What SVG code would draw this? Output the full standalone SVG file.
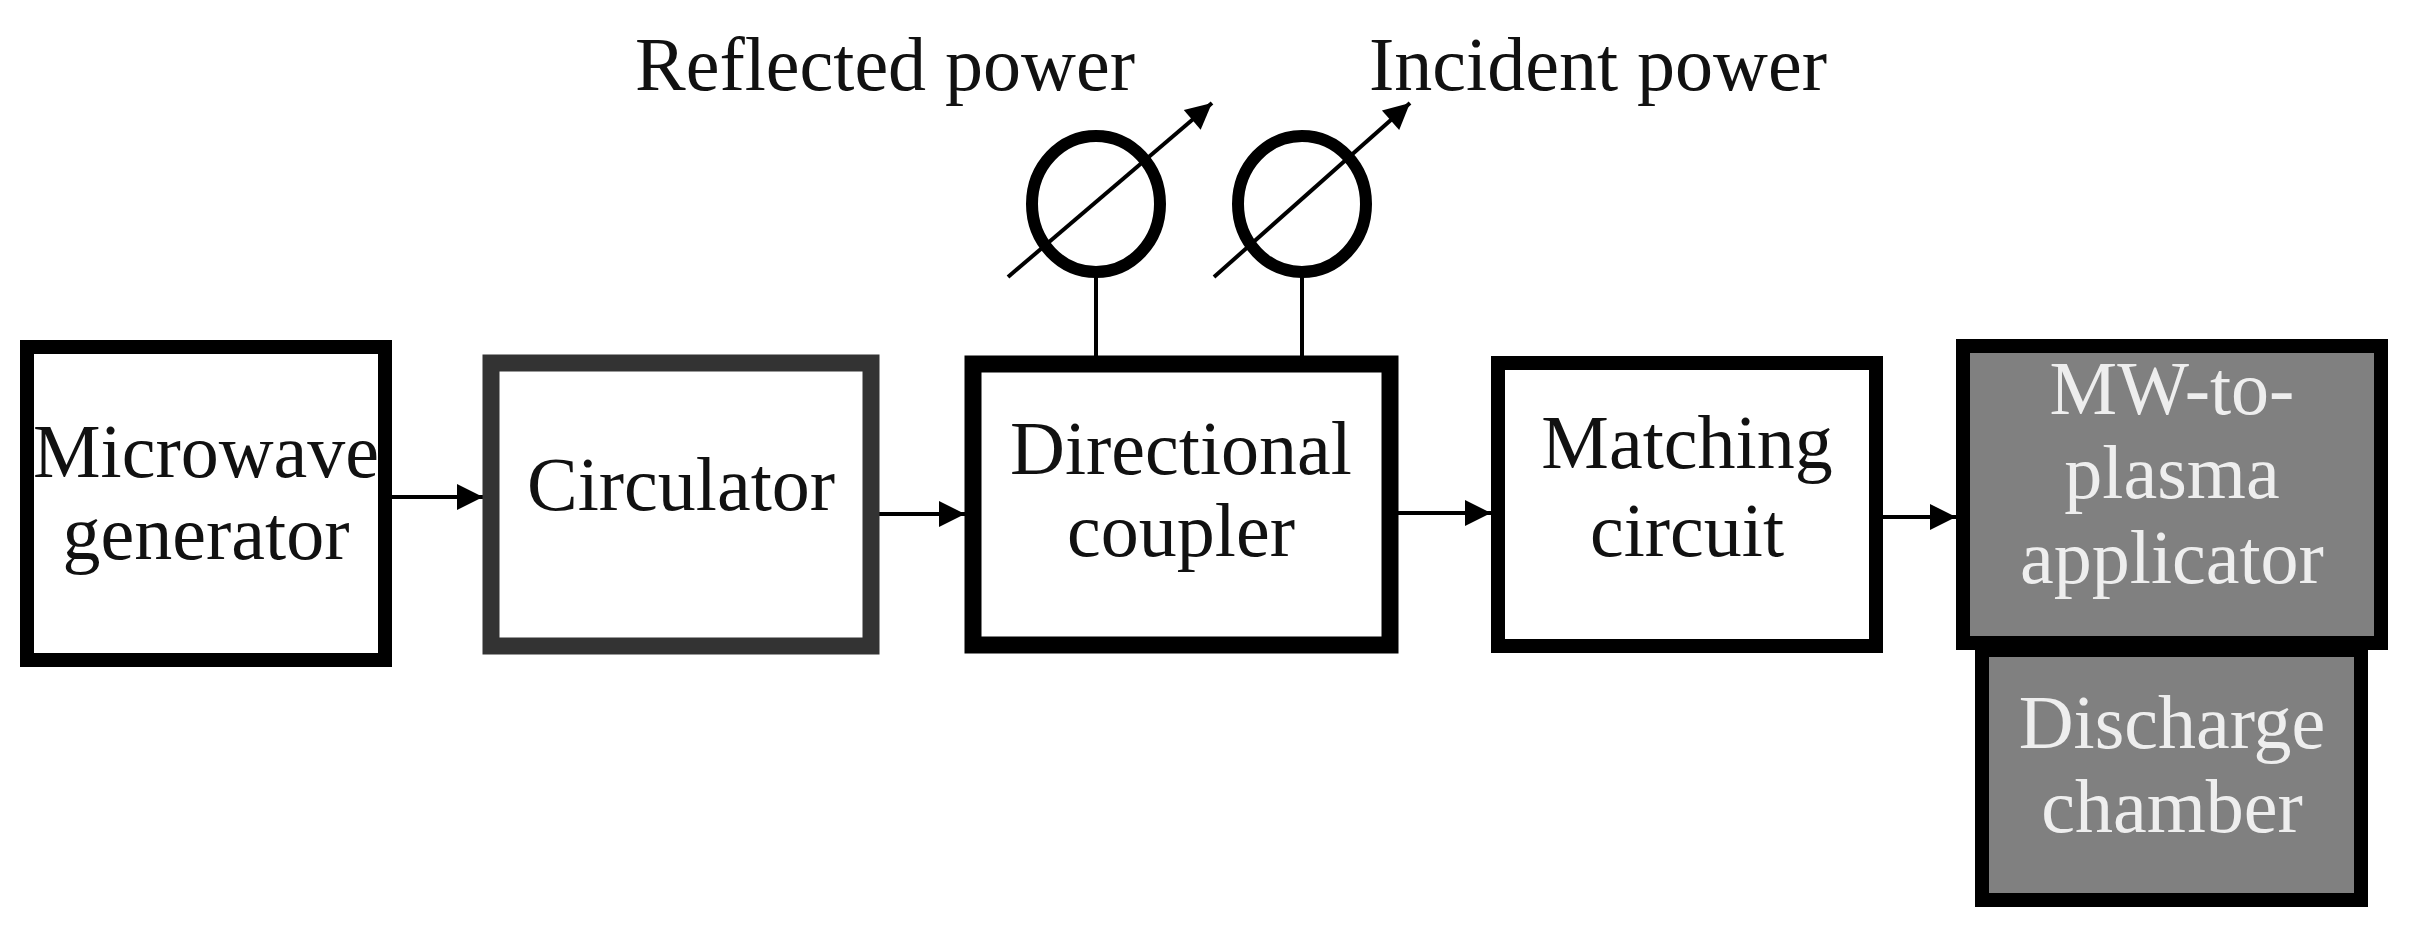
<svg xmlns="http://www.w3.org/2000/svg" width="2412" height="942" viewBox="0 0 2412 942">
<style>
text{font-family:'Liberation Serif','DejaVu Serif',serif;font-size:76px;text-anchor:middle;fill:#111}
.w{fill:#eeeeee}
.box{fill:#fff;stroke:#000;stroke-width:14}
.g{fill:#808080;stroke:#000;stroke-width:14}
.c{stroke:#000;stroke-width:4;fill:none}
.m{fill:none;stroke:#000;stroke-width:12}
</style>
<defs>
<marker id="a" viewBox="0 0 10 10" refX="10" refY="5" markerWidth="28" markerHeight="26" markerUnits="userSpaceOnUse" orient="auto"><path d="M0,0L10,5L0,10z" fill="#000"/></marker>
</defs>
<g id="connectors">
<line class="c" x1="392" y1="497" x2="483" y2="497" marker-end="url(#a)"/>
<line class="c" x1="879" y1="514" x2="965" y2="514" marker-end="url(#a)"/>
<line class="c" x1="1398" y1="513" x2="1491" y2="513" marker-end="url(#a)"/>
<line class="c" x1="1883" y1="517" x2="1956" y2="517" marker-end="url(#a)"/>
<line class="c" x1="1096" y1="276" x2="1096" y2="356"/>
<line class="c" x1="1302" y1="276" x2="1302" y2="356"/>
</g>
<g id="meter-reflected">
<ellipse class="m" cx="1096" cy="204" rx="64" ry="68"/>
<line class="c" x1="1008" y1="277" x2="1212" y2="103" marker-end="url(#a)"/>
<text x="885" y="90" font-family="Liberation Serif, serif">Reflected power</text>
</g>
<g id="meter-incident">
<ellipse class="m" cx="1302" cy="204" rx="64" ry="68"/>
<line class="c" x1="1214" y1="277" x2="1410" y2="103" marker-end="url(#a)"/>
<text x="1598" y="90" font-family="Liberation Serif, serif">Incident power</text>
</g>
<g id="microwave-generator">
<rect class="box" x="27" y="347" width="358" height="313"/>
<text x="206" y="477" font-family="Liberation Serif, serif">Microwave</text>
<text x="206" y="559" font-family="Liberation Serif, serif">generator</text>
</g>
<g id="circulator">
<rect class="box" x="491" y="363" width="380" height="283" style="stroke:#333;stroke-width:17"/>
<text x="681" y="510" font-family="Liberation Serif, serif">Circulator</text>
</g>
<g id="directional-coupler">
<rect class="box" x="973" y="364" width="417" height="281" style="stroke-width:17"/>
<text x="1181" y="474" font-family="Liberation Serif, serif">Directional</text>
<text x="1181" y="556" font-family="Liberation Serif, serif">coupler</text>
</g>
<g id="matching-circuit">
<rect class="box" x="1498" y="363" width="378" height="283"/>
<text x="1687" y="468" font-family="Liberation Serif, serif">Matching</text>
<text x="1687" y="556" font-family="Liberation Serif, serif">circuit</text>
</g>
<g id="discharge-chamber">
<rect class="g" x="1982" y="650" width="379" height="250"/>
<text class="w" x="2172" y="748" font-family="Liberation Serif, serif">Discharge</text>
<text class="w" x="2172" y="832" font-family="Liberation Serif, serif">chamber</text>
</g>
<g id="mw-applicator">
<rect class="g" x="1963" y="346" width="418" height="297"/>
<text class="w" x="2172" y="414" font-family="Liberation Serif, serif">MW-to-</text>
<text class="w" x="2172" y="498" font-family="Liberation Serif, serif">plasma</text>
<text class="w" x="2172" y="583" font-family="Liberation Serif, serif">applicator</text>
</g>
</svg>
